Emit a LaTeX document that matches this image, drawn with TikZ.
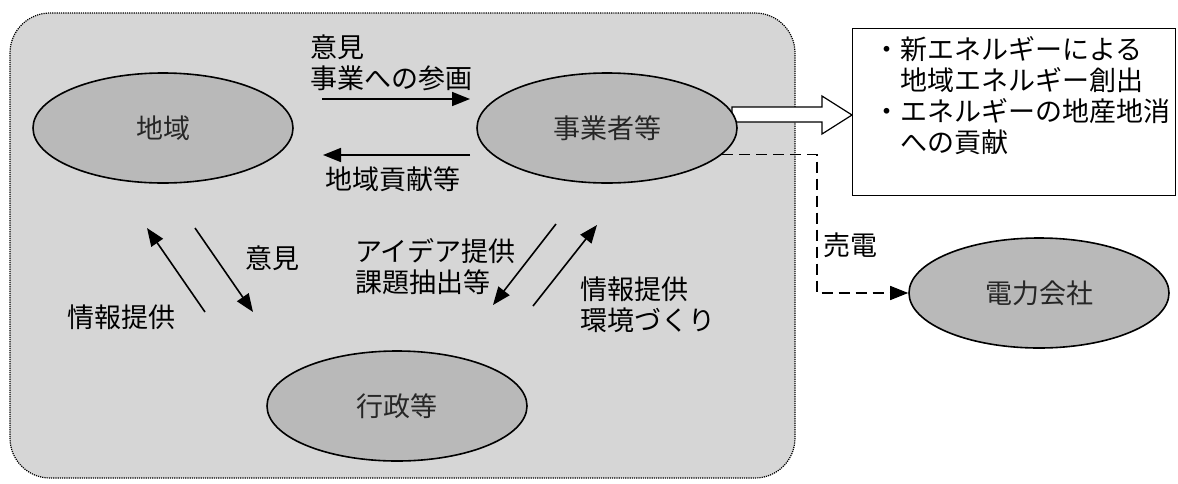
\documentclass[tikz,border=0pt]{standalone}
\usepackage{fontspec}
\setmainfont{Noto Sans CJK JP}
\usetikzlibrary{shapes.geometric,arrows.meta}

\begin{document}
\begin{tikzpicture}[x=1pt,y=-1pt,
  every node/.style={font=\fontsize{27}{31}\selectfont},
  actor/.style={ellipse,draw=black,line width=1.6pt,fill=gray!55,minimum width=260pt,minimum height=110pt,inner sep=0pt,text=black!85},
  flow/.style={-{Triangle[length=18pt,width=14pt]},line width=1.6pt},
  lbl/.style={anchor=west,inner sep=0pt,align=left}]
\useasboundingbox (0,0) rectangle (1178,483);
% x, y in pixels from top left
\draw[densely dotted,line width=1.2pt,fill=gray!32,rounded corners=40pt] (10,13) rectangle (795,478);
% hollow arrow to the box
\coordinate (tip) at (852,115);
\draw[line width=1.2pt,fill=white] (tip) -- ++(-30,-19) -- ++(0,11) -- ++(-90,0) -- ++(0,15) -- ++(90,0) -- ++(0,12) -- cycle;
\node[actor] (chiiki) at (163,128) {地域};
\node[actor] (jigyo) at (607,128) {事業者等};
\node[actor] (gyosei) at (397,406) {行政等};
\node[actor] (denryoku) at (1039,293) {電力会社};
\node[draw=black,line width=1.4pt,fill=white,anchor=north west,minimum width=323pt,minimum height=167pt,inner sep=0pt] (kouka) at (852,28) {};
\node[lbl] (kouka1) at (873,96) {・新エネルギーによる\\\hspace{1em}地域エネルギー創出\\・エネルギーの地産地消\\\hspace{1em}への貢献};
% dashed line to 電力会社
\coordinate (sellbend) at (817,293);
\draw[dash pattern=on 11pt off 6pt,line width=1.5pt,-{Triangle[length=18pt,width=14pt]}] (jigyo.-13) -| (sellbend) -- (denryoku.west);
\node[lbl] (baiden) at (823,245) {売電};
% arrows 地域 <-> 事業者等
\coordinate (a1s) at (322,99);
\coordinate (a1e) at (470,99);
\coordinate (a2s) at (470,155);
\coordinate (a2e) at (323,155);
\draw[flow] (a1s) -- (a1e);
\draw[flow] (a2s) -- (a2e);
\node[lbl] (iken1) at (310,63) {意見\\事業への参画};
\node[lbl] (kouken) at (325,179) {地域貢献等};
% arrows 地域 <-> 行政等
\coordinate (a3s) at (205,312);
\coordinate (a3e) at (147,228);
\coordinate (a4s) at (195,228);
\coordinate (a4e) at (253,312);
\draw[flow] (a3s) -- (a3e);
\draw[flow] (a4s) -- (a4e);
\node[lbl] (iken2) at (245,258) {意見};
\node[lbl] (joho1) at (67,317) {情報提供};
% arrows 事業者等 <-> 行政等
\coordinate (a5s) at (556,224);
\coordinate (a5e) at (493,305);
\coordinate (a6s) at (533,306);
\coordinate (a6e) at (597,225);
\draw[flow] (a5s) -- (a5e);
\draw[flow] (a6s) -- (a6e);
\node[lbl] (idea) at (355,267) {アイデア提供\\課題抽出等};
\node[lbl] (joho2) at (580,305) {情報提供\\環境づくり};
\end{tikzpicture}
\end{document}
